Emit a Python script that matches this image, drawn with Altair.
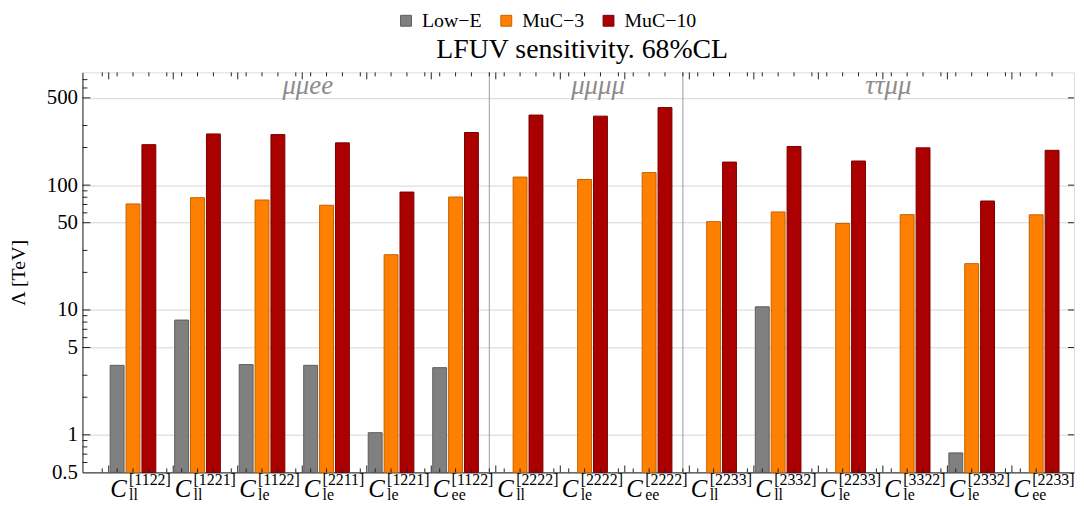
import altair as alt
import pandas as pd

# ---------------- data ----------------
keys = ["ll1122", "ll1221", "le1122", "le2211", "le1221", "ee1122",
        "ll2222", "le2222", "ee2222",
        "ll2233", "ll2332", "le2233", "le3322", "le2332", "ee2233"]
subs = ["ll", "ll", "le", "le", "le", "ee",
        "ll", "le", "ee",
        "ll", "ll", "le", "le", "le", "ee"]
sups = ["[1122]", "[1221]", "[1122]", "[2211]", "[1221]", "[1122]",
        "[2222]", "[2222]", "[2222]",
        "[2233]", "[2332]", "[2233]", "[3322]", "[2332]", "[2233]"]
series = ["Low−E", "MuC−3", "MuC−10"]
low_e = [3.6, 8.3, 3.65, 3.6, 1.04, 3.45, None, None, None, None, 10.6, None, None, 0.716, None]
muc3 = [70.7, 79.3, 76, 69, 27.7, 80.3, 116, 111, 126, 51, 61, 49.3, 58, 23.5, 57.8]
muc10 = [211, 257, 254, 218, 88, 264, 364, 357, 418, 153, 204, 156, 199, 74.6, 190]

title_text = "LFUV sensitivity. 68%CL"
sections = ["μμee", "μμμμ", "ττμμ"]
section_anchor = ["le2211", "le2222", "le3322"]
section_band = [0, 0.5, 0]
separators = ["ll2222", "ll2233"]

y_labels = [0.5, 1, 5, 10, 50, 100, 500]
y_minor = [0.6, 0.7, 0.8, 0.9, 2, 3, 6, 7, 8, 9, 20, 30, 60, 70, 80, 90, 200, 300, 600, 700]

fills = ["#808080", "#FF8000", "#AA0000"]
edges = ["#5c5c5c", "#c46200", "#7a0000"]

W, H = 999, 403
SERIF = "Liberation Serif"

# ---------------- tables ----------------
rows = []
for i, k in enumerate(keys):
    for s, vals in zip(series, [low_e, muc3, muc10]):
        if vals[i] is not None:
            rows.append({"key": k, "series": s, "value": vals[i]})
bars_df = pd.DataFrame(rows)
tick_df = pd.DataFrame([{"key": k, "series": s} for k in keys for s in series])
lab_df = pd.DataFrame({"key": keys, "sub": subs, "sup": sups})
key_df = pd.DataFrame({"key": keys})
sep_df = pd.DataFrame({"key": separators})
ymaj_df = pd.DataFrame({"v": y_labels[1:]})
ymin_df = pd.DataFrame({"v": y_minor})
title_df = pd.DataFrame({"t": [title_text]})

xscale = alt.Scale(domain=keys, paddingInner=0, paddingOuter=0.185, align=0.83)
xoff_scale = alt.Scale(domain=series, paddingInner=0.125, paddingOuter=0.594, align=0.42)
yscale = alt.Scale(type="log", domain=[0.5, 800], nice=False)

bars = alt.Chart(bars_df).mark_bar(strokeWidth=1).encode(
    x=alt.X("key:N", scale=xscale, sort=keys,
            axis=alt.Axis(labels=False, ticks=False, title=None, grid=False,
                          domainColor="#222", domainWidth=1)),
    xOffset=alt.XOffset("series:N", scale=xoff_scale, sort=series),
    y=alt.Y("value:Q", scale=yscale, stack=None,
            axis=alt.Axis(values=y_labels, format="~g", ticks=False, grid=True,
                          gridColor="#d6d6d6", gridWidth=1, domainColor="#222",
                          labelFont=SERIF, labelFontSize=21, labelColor="black",
                          labelPadding=5, labelOverlap=False, labelBound=False,
                          title="Λ  [TeV]", titleFont=SERIF, titleFontSize=20,
                          titleFontWeight="normal", titleColor="black", titlePadding=18)),
    color=alt.Color("series:N", sort=series, scale=alt.Scale(domain=series, range=fills),
                    legend=alt.Legend(title=None, orient="none", legendX=316, legendY=-62,
                                      direction="horizontal", symbolType="square",
                                      symbolSize=120, symbolStrokeWidth=1,
                                      labelFont=SERIF, labelFontSize=20, labelColor="black",
                                      columnPadding=14, labelOffset=6)),
    stroke=alt.Stroke("series:N", sort=series, scale=alt.Scale(domain=series, range=edges),
                      legend=None),
)

seps = alt.Chart(sep_df).mark_rule(color="#9a9a9a", strokeWidth=1).encode(
    x=alt.X("key:N", scale=xscale, bandPosition=0),
    y=alt.value(0), y2=alt.value(H),
)

bt_ticks = alt.Chart(tick_df).mark_rule(color="#222", strokeWidth=1).encode(
    x=alt.X("key:N", scale=xscale),
    xOffset=alt.XOffset("series:N", scale=xoff_scale, bandPosition=0.5),
    y=alt.value(H - 4), y2=alt.value(H),
)
tp_ticks = alt.Chart(tick_df).mark_rule(color="#222", strokeWidth=1).encode(
    x=alt.X("key:N", scale=xscale),
    xOffset=alt.XOffset("series:N", scale=xoff_scale, bandPosition=0.5),
    y=alt.value(0), y2=alt.value(4),
)
slot_short = alt.Chart(key_df).mark_rule(color="#222", strokeWidth=1).encode(
    x=alt.X("key:N", scale=xscale, bandPosition=0),
    y=alt.value(H - 4), y2=alt.value(H),
)
slot_tall = alt.Chart(key_df).mark_rule(color="#222", strokeWidth=1).encode(
    x=alt.X("key:N", scale=xscale, bandPosition=0.1),
    y=alt.value(H - 7), y2=alt.value(H),
)
slot_short_t = alt.Chart(key_df).mark_rule(color="#222", strokeWidth=1).encode(
    x=alt.X("key:N", scale=xscale, bandPosition=0),
    y=alt.value(0), y2=alt.value(4),
)
slot_tall_t = alt.Chart(key_df).mark_rule(color="#222", strokeWidth=1).encode(
    x=alt.X("key:N", scale=xscale, bandPosition=0.1),
    y=alt.value(0), y2=alt.value(7),
)

ymaj_l = alt.Chart(ymaj_df).mark_rule(color="#222").encode(
    y=alt.Y("v:Q", scale=yscale), x=alt.value(0), x2=alt.value(8))
ymin_l = alt.Chart(ymin_df).mark_rule(color="#222").encode(
    y=alt.Y("v:Q", scale=yscale), x=alt.value(0), x2=alt.value(5))
ymaj_r = alt.Chart(ymaj_df).mark_rule(color="#222").encode(
    y=alt.Y("v:Q", scale=yscale), x=alt.value(W - 6), x2=alt.value(W))

sec_layers = []
for name, anchor, band in zip(sections, section_anchor, section_band):
    sec_layers.append(
        alt.Chart(pd.DataFrame({"key": [anchor], "label": [name]})).mark_text(
            font=SERIF, fontSize=27, fontStyle="italic", color="#8c8c8c",
            align="center", baseline="alphabetic", dx=12).encode(
            x=alt.X("key:N", scale=xscale, bandPosition=band),
            y=alt.value(22), text="label:N")
    )

title_mark = alt.Chart(title_df).mark_text(
    font=SERIF, fontSize=28, color="black", align="center", baseline="alphabetic").encode(
    x=alt.value(W / 2 + 4), y=alt.value(-14), text="t:N")

c_txt = alt.Chart(lab_df).mark_text(
    font=SERIF, fontSize=25, fontStyle="italic", color="black",
    align="left", baseline="alphabetic", dx=8).encode(
    x=alt.X("key:N", scale=xscale, bandPosition=0), y=alt.value(H + 25),
    text=alt.value("C"))
sub_txt = alt.Chart(lab_df).mark_text(
    font=SERIF, fontSize=16, color="black",
    align="left", baseline="alphabetic", dx=27).encode(
    x=alt.X("key:N", scale=xscale, bandPosition=0), y=alt.value(H + 28),
    text="sub:N")
sup_txt = alt.Chart(lab_df).mark_text(
    font=SERIF, fontSize=16, color="black",
    align="left", baseline="alphabetic", dx=27).encode(
    x=alt.X("key:N", scale=xscale, bandPosition=0), y=alt.value(H + 13),
    text="sup:N")

chart = alt.layer(
    seps, bars, bt_ticks, tp_ticks, slot_short, slot_tall, slot_short_t, slot_tall_t,
    ymaj_l, ymin_l, ymaj_r, *sec_layers, title_mark, c_txt, sub_txt, sup_txt,
).properties(
    width=W, height=H,
    autosize=alt.AutoSizeParams(type="none"),
    padding={"left": 75, "top": 63, "right": 2, "bottom": 32},
).configure_view(stroke="#555", strokeWidth=1).configure(background="white")

chart.save("out.html", embed_options={"renderer": "svg", "actions": False})
